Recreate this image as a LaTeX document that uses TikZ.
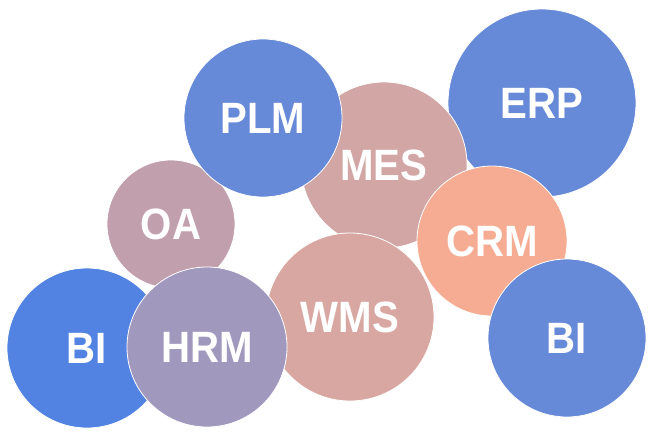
\documentclass[tikz,border=0pt]{standalone}
\usepackage{fontspec}
\setmainfont{Liberation Sans}
\definecolor{cblue}{RGB}{102,137,216}
\definecolor{cbluedeep}{RGB}{82,131,226}
\definecolor{cmes}{RGB}{211,166,166}
\definecolor{coa}{RGB}{193,159,173}
\definecolor{chrm}{RGB}{161,152,190}
\definecolor{cwms}{RGB}{216,167,161}
\definecolor{ccrm}{RGB}{246,172,146}
\newcommand{\blabel}[1]{\scalebox{0.98}[1.07]{#1}}
\tikzset{
  bubble/.style={circle, draw=white, line width=0.8pt, inner sep=0pt, text=white,
    font=\fontsize{41}{41}\selectfont\bfseries}
}
\begin{document}
\begin{tikzpicture}[x=1pt,y=-1pt]
\useasboundingbox[fill=white] (0,0) rectangle (660,440);
\node[bubble, fill=coa, minimum size=128pt] (oa) at (171,224) {\blabel{OA}};
\node[bubble, fill=cblue, minimum size=188pt] (erp) at (542,103) {\blabel{ERP}};
\node[bubble, fill=cmes, minimum size=166pt] (mes) at (384,165) {\blabel{MES}};
\node[bubble, fill=cblue, minimum size=158pt] (plm) at (263,118) {\blabel{PLM}};
\node[bubble, fill=cwms, minimum size=168pt] (wms) at (350,317) {\blabel{WMS}};
\node[bubble, fill=ccrm, minimum size=150pt] (crm) at (492,241) {\blabel{CRM}};
\node[bubble, fill=cblue, minimum size=158pt] (bir) at (567,338) {\blabel{BI}};
\node[bubble, fill=cbluedeep, minimum size=160pt] (bil) at (87,348) {\blabel{BI}};
\node[bubble, fill=chrm, minimum size=160pt] (hrm) at (207,347) {\blabel{HRM}};
\end{tikzpicture}
\end{document}
